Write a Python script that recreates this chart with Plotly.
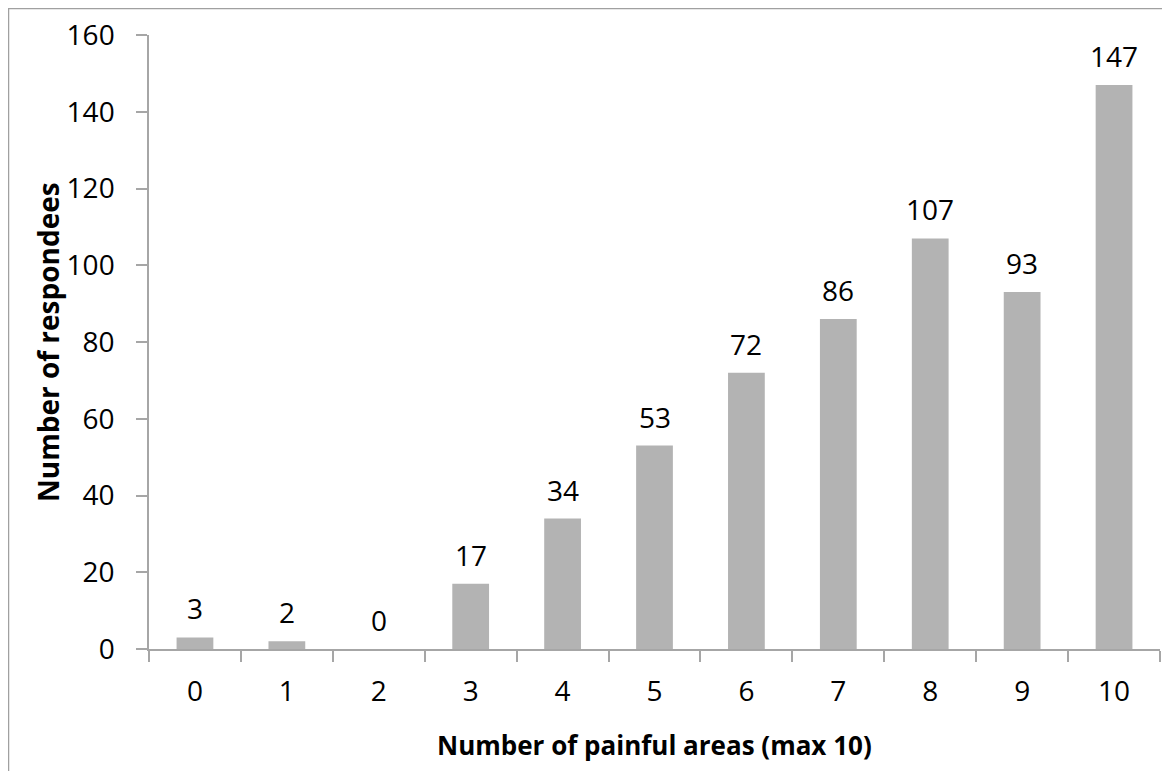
import plotly.graph_objects as go

categories = ["0", "1", "2", "3", "4", "5", "6", "7", "8", "9", "10"]
respondees = [3, 2, 0, 17, 34, 53, 72, 86, 107, 93, 147]
y_ticks = [0, 20, 40, 60, 80, 100, 120, 140, 160]

FONT = "Open Sans"
AXIS_COLOR = "#a6a6a6"

# the page places the figure 8px from the top-left corner of the window
W, H = 1162, 763
L, R, T, B = 141, 10, 27, 122
pw, ph = W - L - R, H - T - B

fig = go.Figure()
fig.add_trace(go.Bar(
    x=categories, y=respondees,
    marker=dict(color="#b3b3b3", line=dict(width=0)),
    showlegend=False, hoverinfo="x+y",
))

for c, v in zip(categories, respondees):
    fig.add_annotation(x=c, y=v, xref="x", yref="y", text=str(v), showarrow=False,
                       yanchor="bottom", yshift=8,
                       font=dict(family=FONT, size=28, color="#000000"))

fig.add_annotation(x=0.5, y=0, xref="paper", yref="paper", text="<b>Number of painful areas (max 10)</b>",
                   showarrow=False, yanchor="middle", yshift=-96,
                   font=dict(family=FONT, size=26, color="#000000"))
fig.add_annotation(x=0, y=0.5, xref="paper", yref="paper", text="<b>Number of respondees</b>",
                   showarrow=False, textangle=-90, xanchor="center", xshift=-101,
                   font=dict(family=FONT, size=28, color="#000000"))

# outer chart border (left and top edges visible in the reference)
fig.add_shape(type="rect", xref="paper", yref="paper",
              x0=(0.5 - L) / pw, x1=(W + 20 - L) / pw,
              y0=-(H + 20 - (T + ph)) / ph, y1=(T + ph - 0.5) / ph,
              line=dict(color="#a0a0a0", width=1.5), fillcolor="rgba(0,0,0,0)", layer="below")

fig.update_layout(
    width=W, height=H,
    margin=dict(l=L, r=R, t=T, b=B, autoexpand=False),
    paper_bgcolor="white", plot_bgcolor="white",
    bargap=0.6,
    font=dict(family=FONT, size=28, color="#000000"),
    xaxis=dict(
        type="category", showline=True, linecolor=AXIS_COLOR, linewidth=1.5,
        ticks="outside", tickson="boundaries", ticklen=11, tickcolor=AXIS_COLOR, tickwidth=1.5,
        showgrid=False, zeroline=False, ticklabelstandoff=17,
        tickfont=dict(family=FONT, size=28, color="#000000"),
    ),
    yaxis=dict(
        range=[0, 160], tickvals=y_ticks, showline=True, linecolor=AXIS_COLOR, linewidth=1.5,
        ticks="outside", ticklen=11, tickcolor=AXIS_COLOR, tickwidth=1.5,
        showgrid=False, zeroline=False, ticklabelstandoff=16,
        tickfont=dict(family=FONT, size=28, color="#000000"),
    ),
)

fig.write_html("out.html")
